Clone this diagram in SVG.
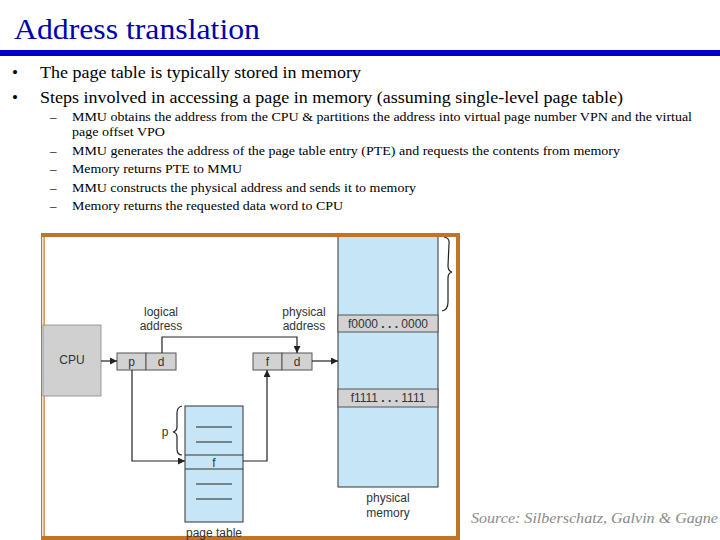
<svg xmlns="http://www.w3.org/2000/svg" width="720" height="540" viewBox="0 0 720 540">
<defs>
<style>
.title{font-family:"Liberation Serif",serif;font-size:30px;fill:#0000b0}
.b1{font-family:"Liberation Serif",serif;font-size:17px;fill:#000}
.b2{font-family:"Liberation Serif",serif;font-size:13px;fill:#000}
.lbl{font-family:"Liberation Sans",Arial,sans-serif;font-size:12px;fill:#333}
.mono{font-family:"Liberation Sans",Arial,sans-serif;font-size:12px;fill:#333}
.ln{stroke:#222;stroke-width:1.2;fill:none}
.blue{fill:#c6e6f8;stroke:#333;stroke-width:1}
.gray{fill:#d2d2d2;stroke:#555;stroke-width:1}
.src{font-family:"Liberation Serif",serif;font-style:italic;font-size:15px;fill:#8a8a8a}
.orange{fill:#c07428}
</style>
<marker id="ah" viewBox="0 0 10 10" refX="10" refY="5" markerWidth="7" markerHeight="7" markerUnits="userSpaceOnUse" orient="auto">
<path d="M0,0 L10,5 L0,10 z" fill="#222"/>
</marker>
</defs>
<rect width="720" height="540" fill="#fff"/>
<text class="title" x="14" y="39" textLength="246" lengthAdjust="spacingAndGlyphs">Address translation</text>
<rect x="0" y="50" width="720" height="6" fill="#0000cc"/>
<g id="bullets">
<text class="b1" x="12" y="78">•</text>
<text class="b1" x="40" y="78" textLength="321" lengthAdjust="spacingAndGlyphs">The page table is typically stored in memory</text>
<text class="b1" x="12" y="103">•</text>
<text class="b1" x="40" y="103" textLength="583" lengthAdjust="spacingAndGlyphs">Steps involved in accessing a page in memory (assuming single-level page table)</text>
<text class="b2" x="50" y="121">–</text>
<text class="b2" x="72" y="121" textLength="620" lengthAdjust="spacingAndGlyphs">MMU obtains the address from the CPU &amp; partitions the address into virtual page number VPN and the virtual</text>
<text class="b2" x="72" y="136" textLength="93" lengthAdjust="spacingAndGlyphs">page offset VPO</text>
<text class="b2" x="50" y="155">–</text>
<text class="b2" x="72" y="155" textLength="548" lengthAdjust="spacingAndGlyphs">MMU generates the address of the page table entry (PTE) and requests the contents from memory</text>
<text class="b2" x="50" y="173">–</text>
<text class="b2" x="72" y="173" textLength="170" lengthAdjust="spacingAndGlyphs">Memory returns PTE to MMU</text>
<text class="b2" x="50" y="192">–</text>
<text class="b2" x="72" y="192" textLength="344" lengthAdjust="spacingAndGlyphs">MMU constructs the physical address and sends it to memory</text>
<text class="b2" x="50" y="210">–</text>
<text class="b2" x="72" y="210" textLength="271" lengthAdjust="spacingAndGlyphs">Memory returns the requested data word to CPU</text>
</g>
<rect x="41" y="233" width="419" height="307" fill="#fff"/>
<g id="memory">
<rect class="blue" x="338" y="234" width="100" height="253"/>
<rect class="gray" x="338" y="315" width="100" height="17"/>
<text class="mono" x="388" y="328" text-anchor="middle">f0000 <tspan font-weight="bold">. . .</tspan> 0000</text>
<rect class="gray" x="338" y="389" width="100" height="18"/>
<text class="mono" x="388" y="402" text-anchor="middle">f1111 <tspan font-weight="bold">. . .</tspan> 1111</text>
<path class="ln" d="M444,237 Q450,238 449,244 L448,266 Q448,271 452,272 Q448,273 448,278 L448,302 Q448,310 442,311" stroke-width="1"/>
<text class="lbl" x="388" y="502" text-anchor="middle">physical</text>
<text class="lbl" x="388" y="517" text-anchor="middle">memory</text>
</g>
<g id="frame">
<rect class="orange" x="41" y="233" width="419" height="4"/>
<rect class="orange" x="41" y="233" width="1.2" height="307"/>
<rect class="orange" x="43.5" y="233" width="1.2" height="307"/>
<rect class="orange" x="456" y="233" width="4" height="307"/>
<rect class="orange" x="41" y="536" width="419" height="4"/>
</g>
<g id="cpu">
<rect x="43" y="325" width="58" height="71" fill="#d0d0d0" stroke="#888" stroke-width="0.8"/>
<text class="lbl" x="72" y="364" text-anchor="middle" font-size="13">CPU</text>
</g>
<g id="logical">
<rect class="gray" x="117" y="353" width="29" height="17"/>
<rect class="gray" x="146" y="353" width="30" height="17"/>
<text class="lbl" x="131.5" y="366" text-anchor="middle">p</text>
<text class="lbl" x="161" y="366" text-anchor="middle">d</text>
<text class="lbl" x="161" y="316" text-anchor="middle">logical</text>
<text class="lbl" x="161" y="330" text-anchor="middle">address</text>
</g>
<g id="physical">
<rect class="gray" x="253" y="353" width="29" height="17"/>
<rect class="gray" x="282" y="353" width="30" height="17"/>
<text class="lbl" x="267.5" y="366" text-anchor="middle">f</text>
<text class="lbl" x="297" y="366" text-anchor="middle">d</text>
<text class="lbl" x="304" y="316" text-anchor="middle">physical</text>
<text class="lbl" x="304" y="330" text-anchor="middle">address</text>
</g>
<g id="pagetable">
<rect class="blue" x="185" y="406" width="58" height="116"/>
<line x1="185" y1="455" x2="243" y2="455" stroke="#333"/>
<line x1="185" y1="469" x2="243" y2="469" stroke="#333"/>
<text class="lbl" x="214" y="467" text-anchor="middle">f</text>
<g stroke="#222" stroke-width="1">
<line x1="196" y1="427" x2="232" y2="427"/>
<line x1="196" y1="442" x2="232" y2="442"/>
<line x1="196" y1="484" x2="232" y2="484"/>
<line x1="196" y1="499" x2="232" y2="499"/>
</g>
<path class="ln" d="M182,406 Q177,407 177,413 L177,427 Q177,431 173,432 Q177,433 177,437 L177,449 Q177,455 182,455" stroke-width="1"/>
<text class="lbl" x="165" y="436" text-anchor="middle">p</text>
<text class="lbl" x="214" y="537" text-anchor="middle">page table</text>
</g>
<g id="connectors">
<line class="ln" x1="101" y1="361" x2="117" y2="361" marker-end="url(#ah)"/>
<line class="ln" x1="312" y1="361" x2="338" y2="361" marker-end="url(#ah)"/>
<polyline class="ln" points="162,353 162,337 297,337 297,353" marker-end="url(#ah)"/>
<polyline class="ln" points="132,370 132,461 185,461" marker-end="url(#ah)"/>
<polyline class="ln" points="243,461 267,461 267,370" marker-end="url(#ah)"/>
</g>
<text class="src" x="471" y="523" textLength="247" lengthAdjust="spacingAndGlyphs">Source: Silberschatz, Galvin &amp; Gagne</text>
</svg>
